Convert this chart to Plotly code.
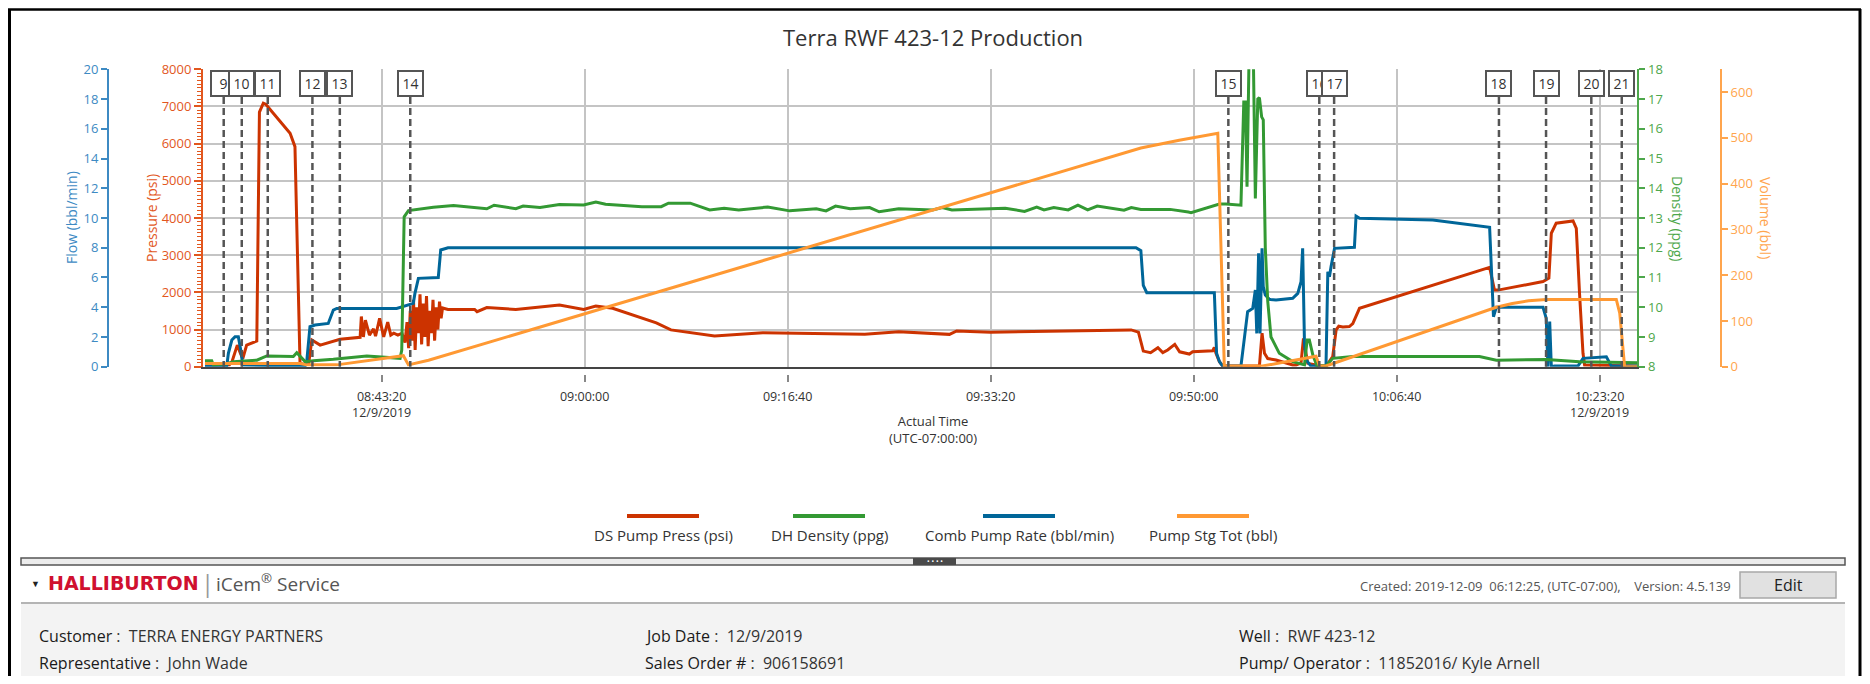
import plotly.graph_objects as go

# page is 1870x684; html body has an 8px margin, so the figure is inset
PAGE_W, PAGE_H = 1870, 684
OFF = 8
W, H = PAGE_W - 2 * OFF, PAGE_H - 2 * OFF
DATE = "2019-12-09 "

# ---------------- data ----------------
press_t = ["08:28:50", "08:30:50", "08:31:02", "08:31:29", "08:31:45", "08:31:56", "08:32:15", "08:32:40",
           "08:33:05", "08:33:18", "08:33:37", "08:33:49", "08:35:00", "08:35:49", "08:36:13", "08:36:38",
           "08:37:20", "08:37:36", "08:38:17", "08:39:55", "08:41:34", "08:41:40", "08:41:50", "08:42:00",
           "08:42:20", "08:42:40", "08:42:50", "08:43:10", "08:43:30", "08:43:50", "08:44:05", "08:44:20",
           "08:44:40", "08:45:00", "08:45:15", "08:45:25", "08:45:33", "08:45:41", "08:45:49", "08:45:57",
           "08:46:05", "08:46:13", "08:46:21", "08:46:29", "08:46:37", "08:46:45", "08:46:53", "08:47:01",
           "08:47:09", "08:47:17", "08:47:25", "08:47:33", "08:47:41", "08:47:49", "08:47:57", "08:48:05",
           "08:48:13", "08:48:20", "08:48:47", "08:50:58", "08:51:10", "08:51:58", "08:54:21", "08:57:56",
           "08:59:55", "09:00:55", "09:02:18", "09:05:53", "09:07:05", "09:10:40", "09:14:38", "09:23:00",
           "09:25:47", "09:29:57", "09:30:33", "09:33:20", "09:44:52", "09:45:28", "09:45:52", "09:46:28",
           "09:47:04", "09:47:28", "09:47:52", "09:48:27", "09:48:51", "09:49:39", "09:49:55", "09:51:34",
           "09:51:42", "09:51:50", "09:52:07", "09:52:23", "09:55:24", "09:55:37", "09:55:49", "09:56:05",
           "09:56:46", "09:58:08", "09:58:25", "09:58:49", "09:59:01", "09:59:22", "10:00:03", "10:00:52",
           "10:01:25", "10:01:42", "10:01:55", "10:02:15", "10:02:47", "10:03:04", "10:03:37", "10:14:18",
           "10:14:42", "10:14:59", "10:18:41", "10:19:10", "10:19:22", "10:19:46", "10:21:09", "10:21:25",
           "10:21:41", "10:21:58", "10:22:06", "10:26:37"]
press_v = [50, 50, 120, 580, 350, 220, 580, 630,
           690, 6850, 7090, 7060, 6600, 6280, 5920, 80,
           60, 720, 580, 740, 790, 1350, 800, 1250,
           850, 1020, 820, 1300, 800, 1200, 850, 900,
           850, 900, 650, 1200, 500, 1500, 700, 1800,
           450, 1600, 900, 1950, 600, 1700, 800, 1900,
           550, 1500, 900, 1800, 700, 1600, 1000, 1750,
           1300, 1580, 1540, 1540, 1480, 1590, 1540, 1660,
           1540, 1630, 1570, 1180, 990, 825, 915, 870,
           940, 870, 960, 930, 990, 930, 420, 375,
           510, 380, 450, 600, 400, 341, 400, 430,
           520, 360, 135, 20, 20, 900, 360, 220,
           180, 45, 45, 100, 760, 90, 45, 10,
           270, 990, 1090, 1070, 1080, 1160, 1570, 2670,
           2060, 2060, 2290, 2380, 3590, 3860, 3920, 3720,
           1970, 360, 45, 20]

dens_t = ["08:28:50", "08:29:23", "08:29:31", "08:30:37", "08:31:10", "08:32:48", "08:33:05", "08:33:54",
          "08:36:05", "08:36:22", "08:36:38", "08:37:03", "08:37:44", "08:39:22", "08:42:07", "08:44:51",
          "08:44:59", "08:45:11", "08:45:32", "08:47:35", "08:49:14", "08:51:58", "08:52:34", "08:54:21",
          "08:54:57", "08:56:20", "08:57:56", "08:59:55", "09:00:55", "09:01:43", "09:04:42", "09:06:17",
          "09:06:53", "09:08:40", "09:10:16", "09:11:27", "09:12:39", "09:15:02", "09:16:50", "09:19:01",
          "09:19:49", "09:20:36", "09:21:48", "09:23:24", "09:24:11", "09:25:47", "09:28:34", "09:29:22",
          "09:30:09", "09:34:32", "09:36:07", "09:37:07", "09:37:43", "09:38:31", "09:39:42", "09:40:30",
          "09:41:18", "09:42:05", "09:44:17", "09:44:53", "09:45:40", "09:48:04", "09:49:34", "09:49:47",
          "09:52:07", "09:52:39", "09:53:53", "09:54:07", "09:54:15", "09:54:23", "09:54:34", "09:54:44",
          "09:54:54", "09:55:04", "09:55:16", "09:55:24", "09:55:35", "09:55:43", "09:55:53", "09:56:05",
          "09:56:21", "09:57:02", "09:58:08", "09:59:06", "09:59:19", "09:59:30", "09:59:47", "10:00:06",
          "10:00:52", "10:01:25", "10:03:04", "10:13:28", "10:14:51", "10:18:57", "10:21:41", "10:26:37"]
dens_v = [8.2, 8.2, 8.06, 8.1, 8.17, 8.2, 8.22, 8.36,
          8.34, 8.47, 8.34, 8.17, 8.2, 8.25, 8.36, 8.28,
          8.56, 13.04, 13.25, 13.36, 13.42, 13.31, 13.43, 13.31,
          13.40, 13.35, 13.45, 13.44, 13.54, 13.46, 13.38, 13.38,
          13.50, 13.50, 13.27, 13.33, 13.27, 13.37, 13.24, 13.31,
          13.24, 13.40, 13.31, 13.35, 13.21, 13.31, 13.27, 13.35,
          13.27, 13.33, 13.22, 13.37, 13.27, 13.35, 13.27, 13.43,
          13.27, 13.40, 13.26, 13.35, 13.29, 13.29, 13.20, 13.18,
          13.47, 13.47, 13.43, 16.9, 16.9, 14.05, 18.9, 18.9,
          18.5, 13.66, 17.0, 17.05, 16.4, 16.3, 12.0, 10.2,
          9.0, 8.45, 8.17, 8.06, 8.9, 8.9, 8.4, 8.05,
          8.02, 8.28, 8.34, 8.34, 8.22, 8.24, 8.17, 8.13]

rate_t = ["08:28:50", "08:30:37", "08:30:45", "08:31:02", "08:31:18", "08:31:34", "08:31:46", "08:31:56",
          "08:37:03", "08:37:11", "08:37:27", "08:37:52", "08:38:57", "08:39:22", "08:39:39", "08:44:34",
          "08:45:56", "08:46:04", "08:46:21", "08:47:59", "08:48:11", "08:48:47", "09:45:16", "09:45:40",
          "09:45:52", "09:46:09", "09:51:42", "09:51:53", "09:52:07", "09:52:23", "09:53:53", "09:54:10",
          "09:54:26", "09:54:51", "09:55:04", "09:55:11", "09:55:20", "09:55:27", "09:55:37", "09:55:43",
          "09:55:53", "09:56:13", "09:56:46", "09:58:08", "09:58:33", "09:58:49", "09:58:57", "09:59:06",
          "09:59:14", "09:59:38", "10:00:52", "10:01:01", "10:01:09", "10:01:17", "10:01:34", "10:03:12",
          "10:03:20", "10:03:37", "10:09:38", "10:14:18", "10:14:34", "10:14:37", "10:14:51", "10:18:41",
          "10:18:57", "10:19:05", "10:19:14", "10:19:22", "10:19:38", "10:21:33", "10:21:58", "10:23:53",
          "10:24:18", "10:26:37"]
rate_v = [0.04, 0.04, 0.9, 1.79, 2.02, 2.02, 1.12, 0.11,
          0.04, 0.34, 2.69, 2.80, 2.91, 3.81, 3.92, 3.92,
          4.26, 4.93, 5.94, 6.0, 7.85, 8.0, 8.0, 7.8,
          5.47, 4.98, 4.98, 0.9, 0.34, 0.04, 0.04, 1.79,
          3.70, 3.92, 5.16, 2.24, 7.62, 2.24, 7.96, 5.38,
          4.82, 4.53, 4.48, 4.6, 4.93, 5.72, 7.96, 1.57,
          0.45, 0.04, 0.04, 6.39, 6.05, 6.73, 7.96, 8.03,
          10.13, 9.98, 9.87, 9.37, 4.04, 3.36, 3.99, 3.99,
          3.25, 0.0, 3.03, 0.0, 0.04, 0.04, 0.56, 0.67,
          0.04, 0.04]

vol_t = ["08:28:50", "08:36:38", "08:37:11", "08:39:39", "08:45:07", "08:45:32", "08:47:11", "09:16:40",
         "09:36:55", "09:45:40", "09:48:49", "09:51:59", "09:52:31", "09:55:40", "10:00:03", "10:00:20",
         "10:00:52", "10:14:51", "10:16:10", "10:17:30", "10:18:57", "10:24:42", "10:24:59", "10:25:23",
         "10:26:37"]
vol_v = [7, 7, 4, 4, 24, 4, 14, 248,
         409, 478, 495, 510, 1.5, 1.5, 23, 1.5,
         1.5, 130, 138, 144, 147, 147, 117, 0,
         0]

event_labels = ["9", "10", "11", "12", "13", "14", "15", "16", "17", "18", "19", "20", "21"]
event_times = ["08:30:22", "08:31:51", "08:33:59", "08:37:39", "08:39:54", "08:45:41", "09:52:51",
               "10:00:19", "10:01:32", "10:15:04", "10:18:56", "10:22:39", "10:25:09"]

tick_times = ["08:43:20", "09:00:00", "09:16:40", "09:33:20", "09:50:00", "10:06:40", "10:23:20"]
tick_labels = ["08:43:20<br>12/9/2019", "09:00:00", "09:16:40", "09:33:20", "09:50:00", "10:06:40",
               "10:23:20<br>12/9/2019"]

series_names = ["DS Pump Press (psi)", "DH Density (ppg)", "Comb Pump Rate (bbl/min)", "Pump Stg Tot (bbl)"]
series_colors = ["#cc3300", "#339933", "#006699", "#ff9933"]

info_rows = [
    [("Customer", "TERRA ENERGY PARTNERS"), ("Job Date", "12/9/2019"), ("Well", "RWF 423-12")],
    [("Representative", "John Wade"), ("Sales Order #", "906158691"), ("Pump/ Operator", "11852016/ Kyle Arnell")],
]


# ---------------- helpers (page pixels -> paper fraction) ----------------
def px(x):
    return (x - OFF) / W


def py(y):
    return 1 - (y - OFF) / H


def ts(lst):
    return [DATE + t for t in lst]


FONT = "Open Sans"
C_FLOW = "#3d8ac3"
C_PRESS = "#e2571e"
C_DENS = "#4ea74b"
C_VOL = "#ffa54d"
TICK_SIZE = 13

X0, X1 = 203, 1637.4
Y0, Y1 = 69.3, 366.7

fig = go.Figure()
fig.add_trace(go.Scatter(x=ts(vol_t), y=vol_v, name=series_names[3], yaxis="y4",
                         mode="lines", line=dict(color=series_colors[3], width=3)))
fig.add_trace(go.Scatter(x=ts(dens_t), y=dens_v, name=series_names[1], yaxis="y3",
                         mode="lines", line=dict(color=series_colors[1], width=3)))
fig.add_trace(go.Scatter(x=ts(rate_t), y=rate_v, name=series_names[2], yaxis="y2",
                         mode="lines", line=dict(color=series_colors[2], width=3)))
fig.add_trace(go.Scatter(x=ts(press_t), y=press_v, name=series_names[0], yaxis="y",
                         mode="lines", line=dict(color=series_colors[0], width=3)))
# empty helper trace so that the offset tick axis (x2) is drawn
fig.add_trace(go.Scatter(x=ts(tick_times[:1]), y=[None], xaxis="x2", yaxis="y",
                         mode="lines", showlegend=False, hoverinfo="skip"))

xr = [DATE + "08:28:40", DATE + "10:26:26"]
ydom = [py(Y1), py(Y0)]

fig.update_layout(
    width=W, height=H, autosize=False,
    margin=dict(l=0, r=0, t=0, b=0, pad=0, autoexpand=False),
    paper_bgcolor="white", plot_bgcolor="white",
    showlegend=False,
    font=dict(family=FONT, size=13, color="#333"),
    xaxis=dict(domain=[px(X0), px(X1)], range=xr, type="date", automargin=False,
               tickmode="array", tickvals=ts(tick_times), ticktext=tick_labels,
               showticklabels=False, ticks="",
               showgrid=True, gridcolor="#c4c4c4", gridwidth=1.5,
               showline=True, linecolor="#444", linewidth=2, zeroline=False, anchor="y"),
    xaxis2=dict(domain=[px(X0), px(X1)], range=xr, type="date", overlaying="x", automargin=False,
                anchor="free", position=py(374), side="bottom",
                tickmode="array", tickvals=ts(tick_times), ticktext=tick_labels,
                ticks="outside", ticklen=7, tickwidth=1.5, tickcolor="#888", ticklabelstandoff=4,
                showgrid=False, showline=False, zeroline=False,
                tickfont=dict(size=12.5, color="#333")),
    yaxis=dict(domain=ydom, range=[0, 8000], tickmode="linear", tick0=0, dtick=1000, automargin=False,
               ticks="outside", ticklen=7, tickwidth=1.5, tickcolor=C_PRESS,
               showline=True, linecolor=C_PRESS, linewidth=2,
               tickfont=dict(size=TICK_SIZE, color=C_PRESS),
               showgrid=True, gridcolor="#c4c4c4", gridwidth=1.5, zeroline=False,
               minor=dict(dtick=100, ticks="outside", ticklen=4, tickwidth=1, tickcolor=C_PRESS, showgrid=False),
               anchor="x"),
    yaxis2=dict(domain=ydom, range=[0, 20], tickmode="linear", tick0=0, dtick=2, automargin=False,
                overlaying="y", anchor="free", position=px(108), side="left",
                ticks="outside", ticklen=6, tickwidth=1.5, tickcolor=C_FLOW,
                showline=True, linecolor=C_FLOW, linewidth=2,
                tickfont=dict(size=TICK_SIZE, color=C_FLOW), showgrid=False, zeroline=False),
    yaxis3=dict(domain=ydom, range=[8, 18], tickmode="linear", tick0=8, dtick=1, automargin=False,
                overlaying="y", anchor="x", side="right",
                ticks="outside", ticklen=6, tickwidth=1.5, tickcolor=C_DENS,
                showline=True, linecolor=C_DENS, linewidth=2,
                tickfont=dict(size=TICK_SIZE, color=C_DENS), showgrid=False, zeroline=False),
    yaxis4=dict(domain=ydom, range=[0, 650], tickmode="array", tickvals=[0, 100, 200, 300, 400, 500, 600],
                automargin=False,
                overlaying="y", anchor="free", position=px(1721), side="right",
                ticks="outside", ticklen=6, tickwidth=1.5, tickcolor=C_VOL,
                showline=True, linecolor=C_VOL, linewidth=2,
                tickfont=dict(size=TICK_SIZE, color=C_VOL), showgrid=False, zeroline=False),
)

shapes = []
ann = []


def note(text, x, y, size, color, xanchor="center", family=None, **kw):
    f = dict(size=size, color=color)
    if family:
        f["family"] = family
    d = dict(text=text, x=px(x), y=py(y), xref="paper", yref="paper", showarrow=False,
             xanchor=xanchor, yanchor="middle", font=f)
    d.update(kw)
    ann.append(d)


# title and axis titles
note("Terra RWF 423-12 Production", 933, 37, 22, "#333")
note("Actual Time<br>(UTC-07:00:00)", 933, 429, 13, "#333")
for txt, xx, col, ang in [("Flow (bbl/min)", 71, C_FLOW, -90), ("Pressure (psi)", 151, C_PRESS, -90),
                          ("Density (ppg)", 1678, C_DENS, 90), ("Volume (bbl)", 1766, C_VOL, 90)]:
    note(txt, xx, (Y0 + Y1) / 2, 14, col, textangle=ang)

# events
for lab, t in zip(event_labels, event_times):
    shapes.append(dict(type="line", xref="x", yref="paper", x0=DATE + t, x1=DATE + t,
                       y0=py(97), y1=py(Y1), line=dict(color="#555", width=2.5, dash="7px,4px")))
for lab, t in zip(event_labels, event_times):
    ann.append(dict(text=lab, x=DATE + t, y=py(83.5), xref="x", yref="paper", showarrow=False,
                    xanchor="center", yanchor="middle",
                    width=21, height=21, borderpad=1, borderwidth=2, bordercolor="#555", bgcolor="white",
                    font=dict(size=14, color="#333")))

# legend (line above label)
leg_centers = [663, 829, 1019, 1213]
for name, col, cx in zip(series_names, series_colors, leg_centers):
    shapes.append(dict(type="line", xref="paper", yref="paper", x0=px(cx - 36), x1=px(cx + 36),
                       y0=py(516), y1=py(516), line=dict(color=col, width=4)))
    note(name, cx, 535, 15, "#333")

# outer frame
shapes.append(dict(type="line", xref="paper", yref="paper", x0=px(9.5), x1=px(9.5), y0=0, y1=py(9),
                   line=dict(color="black", width=3)))
shapes.append(dict(type="line", xref="paper", yref="paper", x0=px(8), x1=px(1861), y0=py(9.5), y1=py(9.5),
                   line=dict(color="black", width=2.5)))
shapes.append(dict(type="line", xref="paper", yref="paper", x0=px(1860), x1=px(1860), y0=0, y1=py(9),
                   line=dict(color="black", width=3)))

# footer
FL, FR = 21, 1845
shapes.append(dict(type="rect", xref="paper", yref="paper", x0=px(FL), x1=px(FR), y0=0, y1=py(604),
                   fillcolor="#f3f3f3", line=dict(width=0), layer="below"))
shapes.append(dict(type="line", xref="paper", yref="paper", x0=px(FL), x1=px(FR), y0=py(603), y1=py(603),
                   line=dict(color="#b4b4b4", width=2)))
shapes.append(dict(type="rect", xref="paper", yref="paper", x0=px(FL), x1=px(FR), y0=py(565), y1=py(558),
                   fillcolor="#ececec", line=dict(color="#555", width=1.5)))
shapes.append(dict(type="rect", xref="paper", yref="paper", x0=px(913), x1=px(956), y0=py(565), y1=py(558),
                   fillcolor="#4a4a4a", line=dict(width=0)))
note("• • • •", 934.5, 561.5, 7, "white")

note("▼", 35, 583, 9, "#222")
note("<b>HALLIBURTON</b>", 46, 583, 19, "#d0102f", xanchor="left", family="DejaVu Sans")
note("|", 207, 582, 24, "#999")
note("iCem<sup>®</sup> Service", 214, 583, 19, "#555", xanchor="left")
note("Created: 2019-12-09  06:12:25, (UTC-07:00),    Version: 4.5.139", 1733, 586, 13, "#555", xanchor="right")
shapes.append(dict(type="rect", xref="paper", yref="paper", x0=px(1740), x1=px(1836), y0=py(598), y1=py(572),
                   fillcolor="#e1e1e1", line=dict(color="#a8a8a8", width=1.5)))
note("Edit", 1788, 585, 16, "#222")

col_x = [37, 643, 1237]
row_y = [636, 663]
for r, row in enumerate(info_rows):
    for c, (lab, val) in enumerate(row):
        note(f"<span style='color:#1a1a1a'>{lab}</span> :  {val}", col_x[c], row_y[r], 16, "#333",
             xanchor="left")

fig.update_layout(shapes=shapes, annotations=ann)
fig.write_html("out.html")
